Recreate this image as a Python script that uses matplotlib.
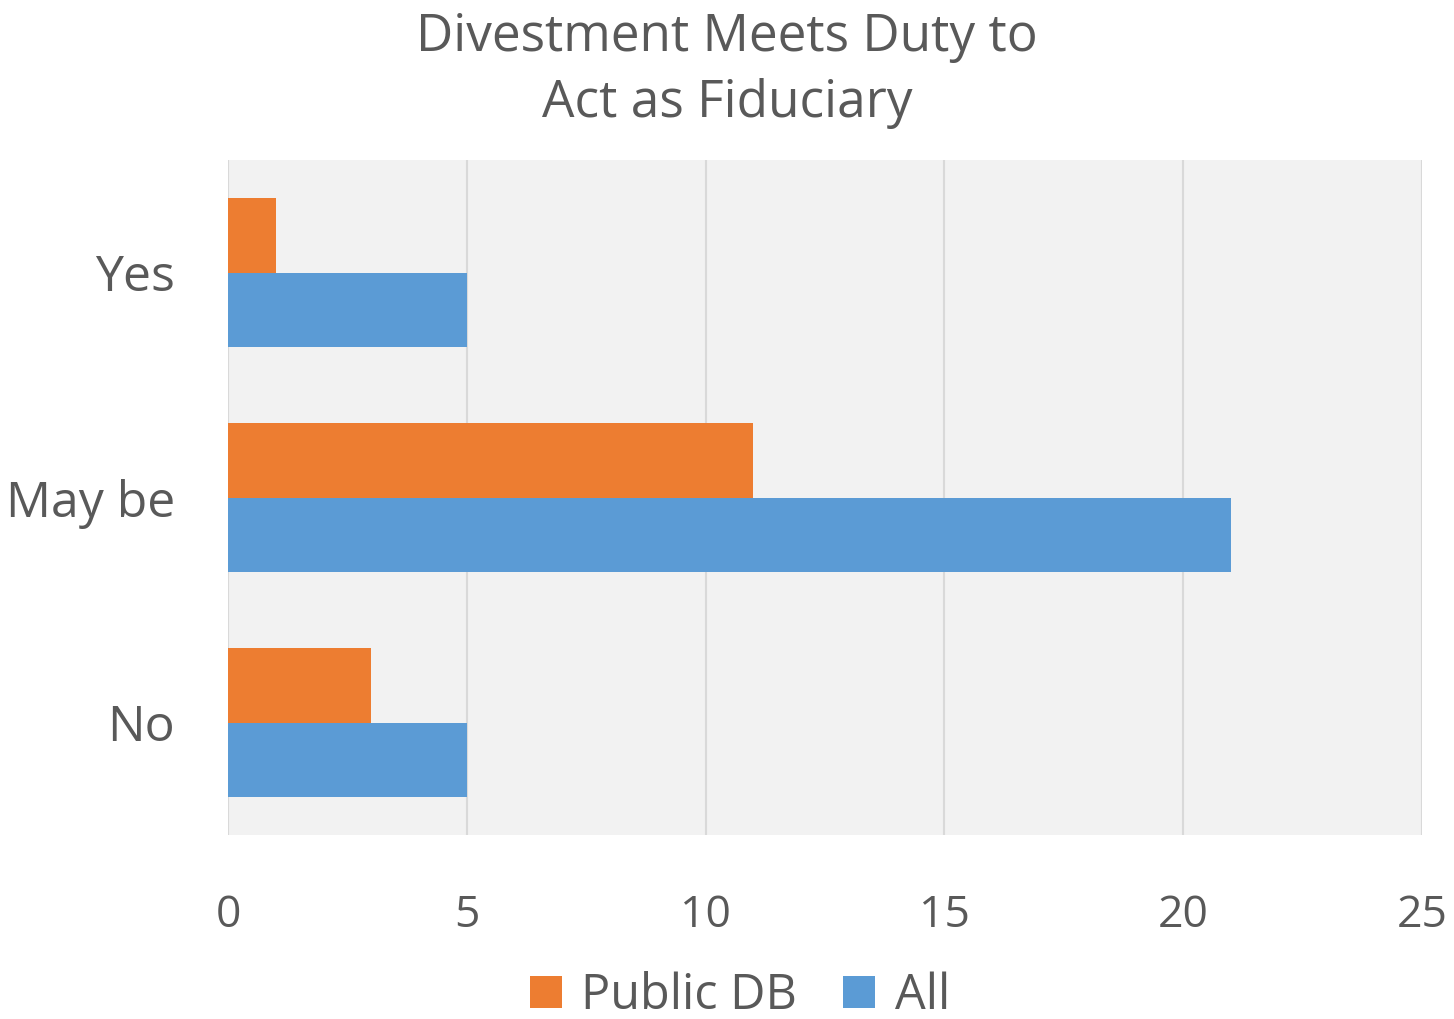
import matplotlib.pyplot as plt
import numpy as np

categories = ['No', 'May be', 'Yes']
public_db = [3, 11, 1]
all_resp = [5, 21, 5]
x_ticks = [0, 5, 10, 15, 20, 25]

plt.rcParams['font.family'] = ['Open Sans', 'DejaVu Sans']
text_color = '#595959'

fig = plt.figure(figsize=(14.54, 10.19), dpi=100)
ax = fig.add_axes([228 / 1454, 1 - 835 / 1019, (1422 - 228) / 1454, (835 - 160) / 1019])
ax.set_facecolor('#F2F2F2')

y = np.arange(len(categories))
h = 0.33
ax.barh(y + h / 2, public_db, height=h, color='#ED7D31', label='Public DB', zorder=3)
ax.barh(y - h / 2, all_resp, height=h, color='#5B9BD5', label='All', zorder=3)

ax.set_xlim(0, 25)
ax.set_ylim(-0.5, 2.5)
ax.set_xticks(x_ticks)
ax.set_yticks(y)
ax.set_yticklabels(categories)
ax.grid(axis='x', color='#D9D9D9', linewidth=1.5, zorder=0)
ax.tick_params(axis='both', length=0, colors=text_color)
ax.tick_params(axis='x', labelsize=32, pad=42)
ax.tick_params(axis='y', labelsize=36, pad=38)
for s in ax.spines.values():
    s.set_visible(False)

fig.suptitle('Divestment Meets Duty to\nAct as Fiduciary', fontsize=37,
             color=text_color, y=0.988, linespacing=1.38)

leg = fig.legend(loc='lower center', bbox_to_anchor=(0.509, -0.045), ncol=2,
                 frameon=False, fontsize=35, handlelength=0.65, handleheight=0.65,
                 handletextpad=0.4, columnspacing=0.95)
for t in leg.get_texts():
    t.set_color(text_color)

fig.savefig('out.png', dpi=100)
